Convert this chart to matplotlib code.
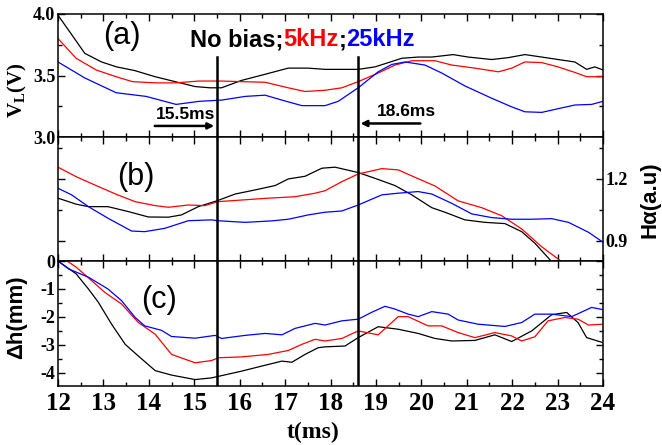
import matplotlib
matplotlib.use("Agg")
import matplotlib.pyplot as plt
from matplotlib.ticker import MultipleLocator

# ---- data ----
# panel (a): V_L (V)
ta_black = [12.0, 12.23, 12.59, 12.96, 13.29, 13.69, 14.14, 14.58, 15.02, 15.35, 15.6, 16.04, 16.56, 17.07, 17.5,
            17.88, 18.25, 18.61, 18.98, 19.57, 19.93, 20.23, 20.7, 21.03, 21.55, 21.91, 22.28, 22.65, 23.01, 23.38,
            23.64, 23.82, 24.0]
va_black = [3.99, 3.87, 3.68, 3.61, 3.57, 3.54, 3.49, 3.45, 3.41, 3.40, 3.40, 3.46, 3.51, 3.56, 3.56,
            3.55, 3.55, 3.55, 3.57, 3.64, 3.65, 3.65, 3.67, 3.65, 3.63, 3.645, 3.67, 3.65, 3.63, 3.61,
            3.55, 3.57, 3.545]
ta_red = [12.0, 12.4, 12.84, 13.28, 13.64, 14.15, 14.6, 15.1, 15.6, 16.04, 16.56, 17.07, 17.44, 17.88, 18.25,
          18.61, 19.05, 19.42, 19.79, 20.3, 20.67, 21.18, 21.7, 21.99, 22.28, 22.65, 23.01, 23.38, 23.64, 24.0]
va_red = [3.80, 3.64, 3.545, 3.49, 3.45, 3.44, 3.44, 3.455, 3.455, 3.45, 3.445, 3.40, 3.37, 3.38, 3.40,
          3.45, 3.52, 3.585, 3.62, 3.62, 3.585, 3.56, 3.53, 3.56, 3.61, 3.605, 3.57, 3.525, 3.49, 3.49]
ta_blue = [12.0, 12.59, 13.28, 13.94, 14.6, 15.11, 15.6, 16.12, 16.56, 16.93, 17.37, 17.88, 18.17, 18.61,
           19.05, 19.35, 19.64, 20.08, 20.45, 20.96, 21.55, 21.99, 22.28, 22.65, 23.01, 23.38, 23.75, 24.0]
va_blue = [3.61, 3.48, 3.36, 3.33, 3.265, 3.29, 3.30, 3.33, 3.34, 3.30, 3.255, 3.255, 3.29, 3.40,
           3.53, 3.59, 3.61, 3.585, 3.52, 3.415, 3.315, 3.245, 3.205, 3.20, 3.23, 3.26, 3.265, 3.29]

# panel (b): H alpha (a.u)
tb_black = [12.0, 12.4, 12.67, 13.1, 13.55, 13.99, 14.43, 14.72, 15.09, 15.51, 15.9, 16.34, 16.78, 17.07, 17.44,
            17.81, 18.1, 18.61, 18.98, 19.42, 19.79, 20.23, 20.52, 20.96, 21.4, 21.84, 22.21, 22.5, 22.87]
hb_black = [1.107, 1.078, 1.066, 1.066, 1.042, 1.016, 1.015, 1.026, 1.066, 1.095, 1.127, 1.147, 1.168, 1.20, 1.213,
            1.252, 1.257, 1.231, 1.203, 1.168, 1.123, 1.061, 1.039, 1.002, 0.99, 0.984, 0.945, 0.889, 0.80]
tb_red = [12.0, 12.4, 12.84, 13.28, 13.7, 14.14, 14.43, 14.87, 15.24, 15.51, 16.04, 16.63, 17.22, 17.66, 17.88,
          18.25, 18.61, 19.13, 19.49, 19.86, 20.3, 20.81, 21.33, 21.77, 22.21, 22.65, 23.09]
hb_red = [1.257, 1.211, 1.168, 1.126, 1.09, 1.071, 1.063, 1.074, 1.071, 1.09, 1.098, 1.107, 1.114, 1.131, 1.143,
          1.187, 1.224, 1.25, 1.244, 1.208, 1.166, 1.094, 1.061, 1.022, 0.958, 0.872, 0.80]
tb_blue = [12.0, 12.3, 12.67, 13.1, 13.62, 13.91, 14.35, 14.87, 15.38, 15.51, 16.12, 16.7, 17.07, 17.51, 17.88,
           18.25, 18.61, 19.13, 19.49, 19.93, 20.23, 20.67, 21.11, 21.55, 21.99, 22.43, 22.87, 23.24, 23.68, 24.0]
hb_blue = [1.155, 1.123, 1.066, 1.01, 0.948, 0.945, 0.961, 0.998, 1.002, 0.998, 0.99, 0.997, 1.005, 1.026, 1.039,
           1.045, 1.074, 1.123, 1.131, 1.139, 1.127, 1.082, 1.031, 1.013, 1.005, 1.005, 1.008, 0.99, 0.942, 0.894]

# panel (c): delta h (mm)
tc_black = [12.0, 12.4, 12.67, 12.89, 13.18, 13.48, 13.77, 14.14, 14.5, 15.02, 15.38, 15.6, 16.04, 16.48, 16.93,
            17.15, 17.44, 17.73, 17.88, 18.32, 18.61, 19.05, 19.49, 19.93, 20.3, 20.67, 21.18, 21.62, 21.99,
            22.43, 22.87, 23.2, 23.45, 23.64, 24.0]
dh_black = [0.0, -0.46, -1.0, -1.48, -2.26, -2.98, -3.40, -3.92, -4.08, -4.24, -4.18, -4.10, -3.94, -3.76, -3.58,
            -3.62, -3.34, -3.10, -3.07, -3.04, -2.74, -2.35, -2.44, -2.59, -2.77, -2.86, -2.84, -2.64, -2.88,
            -2.50, -1.92, -1.84, -2.20, -2.74, -2.92]
tc_red = [12.2, 12.4, 12.67, 13.03, 13.4, 13.77, 14.14, 14.5, 15.02, 15.38, 15.53, 16.04, 16.63, 17.07, 17.37,
          17.66, 17.88, 18.25, 18.61, 19.05, 19.49, 19.71, 20.15, 20.45, 20.81, 21.18, 21.62, 21.99, 22.21,
          22.5, 22.79, 23.16, 23.45, 23.68, 24.0]
dh_red = [0.0, -0.22, -0.60, -1.12, -1.54, -2.20, -2.62, -3.34, -3.64, -3.56, -3.46, -3.43, -3.34, -3.20, -2.98,
          -2.80, -2.86, -2.77, -2.50, -2.64, -1.99, -1.99, -2.32, -2.32, -2.56, -2.74, -2.56, -2.68, -2.86,
          -2.71, -2.14, -2.02, -2.08, -2.29, -2.26]
tc_blue = [12.0, 12.23, 12.67, 13.1, 13.4, 13.7, 13.91, 14.28, 14.5, 15.02, 15.46, 15.6, 16.12, 16.56, 16.93,
           17.22, 17.66, 17.88, 18.25, 18.61, 18.9, 19.2, 19.42, 19.71, 19.93, 20.23, 20.59, 20.81, 21.25,
           21.84, 22.21, 22.5, 22.87, 23.31, 23.75, 24.0]
dh_blue = [0.0, -0.28, -0.58, -1.0, -1.42, -2.02, -2.32, -2.48, -2.70, -2.76, -2.66, -2.77, -2.66, -2.59, -2.64,
           -2.41, -2.23, -2.29, -2.14, -2.08, -1.84, -1.62, -1.72, -1.90, -1.99, -1.81, -1.90, -2.11, -2.26,
           -2.34, -2.20, -1.90, -1.90, -1.99, -1.66, -1.74]

bias_times = [15.5, 18.6]

serif = 'Liberation Serif'
sans = 'Liberation Sans'
plt.rcParams['font.family'] = serif
plt.rcParams['font.weight'] = 'bold'
plt.rcParams['axes.unicode_minus'] = False
plt.rcParams['mathtext.fontset'] = 'custom'
plt.rcParams['mathtext.bf'] = 'Liberation Serif:bold'
plt.rcParams['mathtext.rm'] = 'Liberation Serif:bold'

fig = plt.figure(figsize=(6.62, 4.45), dpi=100)
left, width = 58 / 662, 545 / 662
ax_a = fig.add_axes([left, 1 - 137 / 445, width, 123 / 445])
ax_b = fig.add_axes([left, 1 - 261 / 445, width, 124 / 445])
ax_c = fig.add_axes([left, 1 - 386 / 445, width, 125 / 445])

lw = 0.9
ax_a.plot(ta_black, va_black, color='black', lw=lw)
ax_a.plot(ta_red, va_red, color='red', lw=lw)
ax_a.plot(ta_blue, va_blue, color='blue', lw=lw)
ax_b.plot(tb_black, hb_black, color='black', lw=lw)
ax_b.plot(tb_red, hb_red, color='red', lw=lw)
ax_b.plot(tb_blue, hb_blue, color='blue', lw=lw)
ax_c.plot(tc_black, dh_black, color='black', lw=lw)
ax_c.plot(tc_red, dh_red, color='red', lw=lw)
ax_c.plot(tc_blue, dh_blue, color='blue', lw=lw)

ax_a.set_ylim(3.0, 4.0)
ax_b.set_ylim(0.803, 1.403)
ax_c.set_ylim(-4.47, 0.0)

ax_a.yaxis.set_minor_locator(MultipleLocator(0.25))
ax_b.yaxis.set_major_locator(matplotlib.ticker.FixedLocator([0.9, 1.2]))
ax_b.yaxis.set_minor_locator(matplotlib.ticker.FixedLocator([1.05, 1.35]))
ax_b.yaxis.set_major_formatter(matplotlib.ticker.FormatStrFormatter('%.1f'))
ax_c.yaxis.set_minor_locator(MultipleLocator(0.5))

for ax in (ax_a, ax_b, ax_c):
    ax.set_xlim(12, 24)
    ax.xaxis.set_major_locator(MultipleLocator(1))
    ax.xaxis.set_minor_locator(MultipleLocator(0.5))
    ax.tick_params(which='both', direction='in', top=True, right=True, width=1.0)
    ax.tick_params(which='major', length=5)
    ax.tick_params(which='minor', length=3)
    ax.tick_params(axis='y', labelsize=13, pad=2)
    ax.tick_params(axis='x', labelsize=18, pad=4)
    for s in ax.spines.values():
        s.set_linewidth(1.1)
    for t in bias_times:
        if ax is ax_a:
            ax.axvline(t, ymax=0.65, color='black', lw=1.8)
        else:
            ax.axvline(t, color='black', lw=1.8)

ax_a.tick_params(axis='x', labelbottom=False)
ax_b.tick_params(axis='x', labelbottom=False)
ax_b.tick_params(axis='y', labelleft=False, labelright=True)
ax_a.set_yticks([3.0, 3.5, 4.0])
ax_a.set_yticklabels(['3.0', '3.5', '4.0'])
ax_c.set_yticks([0, -1, -2, -3, -4])
ax_c.set_yticklabels(['0', '-1', '-2', '-3', '-4'])

# panel tags
ax_a.text(13.4, 3.82, '(a)', fontsize=22, fontweight='normal', family=sans, ha='center', va='center')
ax_b.text(13.72, 1.21, '(b)', fontsize=22, fontweight='normal', family=sans, ha='center', va='center')
ax_c.text(14.22, -1.38, '(c)', fontsize=22, fontweight='normal', family=sans, ha='center', va='center')

# title pieces
x0 = 190 / 662
y0 = 1 - 40 / 445
parts = [('No bias;', 'black'), ('5kHz', 'red'), (';', 'black'), ('25kHz', 'blue')]
fig.canvas.draw()
renderer = fig.canvas.get_renderer()
xc = x0
for txt, col in parts:
    tt = fig.text(xc, y0, txt, color=col, fontsize=17, fontweight='bold', family=sans, va='center', ha='left')
    bb = tt.get_window_extent(renderer)
    xc += bb.width / fig.bbox.width

# arrows marking bias times
ax_a.annotate('', xy=(bias_times[0], 3.09), xytext=(14.07, 3.09),
              arrowprops=dict(arrowstyle='-|>', color='black', lw=1.8, mutation_scale=9))
ax_a.text(14.8, 3.18, '15.5ms', fontsize=12.5, fontweight='bold', family=sans, ha='center', va='center')
ax_a.annotate('', xy=(bias_times[1], 3.11), xytext=(20.04, 3.11),
              arrowprops=dict(arrowstyle='-|>', color='black', lw=1.8, mutation_scale=9))
ax_a.text(19.68, 3.21, '18.6ms', fontsize=12.5, fontweight='bold', family=sans, ha='center', va='center')

# axis labels
fig.text(17 / 662, 1 - 90 / 445, r'V$_\mathbf{L}$(V)', rotation=90, fontsize=15, fontweight='bold',
         family=serif, ha='center', va='center')
fig.text(17 / 662, 1 - 317 / 445, 'Δh(mm)', rotation=90, fontsize=16, fontweight='bold',
         family=sans, ha='center', va='center')
fig.text(650 / 662, 1 - 200 / 445, 'Hα(a.u)', rotation=90, fontsize=16, fontweight='bold',
         family=sans, ha='center', va='center')
fig.text(313 / 662, 1 - 432 / 445, 't(ms)', fontsize=17, fontweight='bold', family=serif,
         ha='center', va='center')

fig.savefig('out.png', dpi=100)
